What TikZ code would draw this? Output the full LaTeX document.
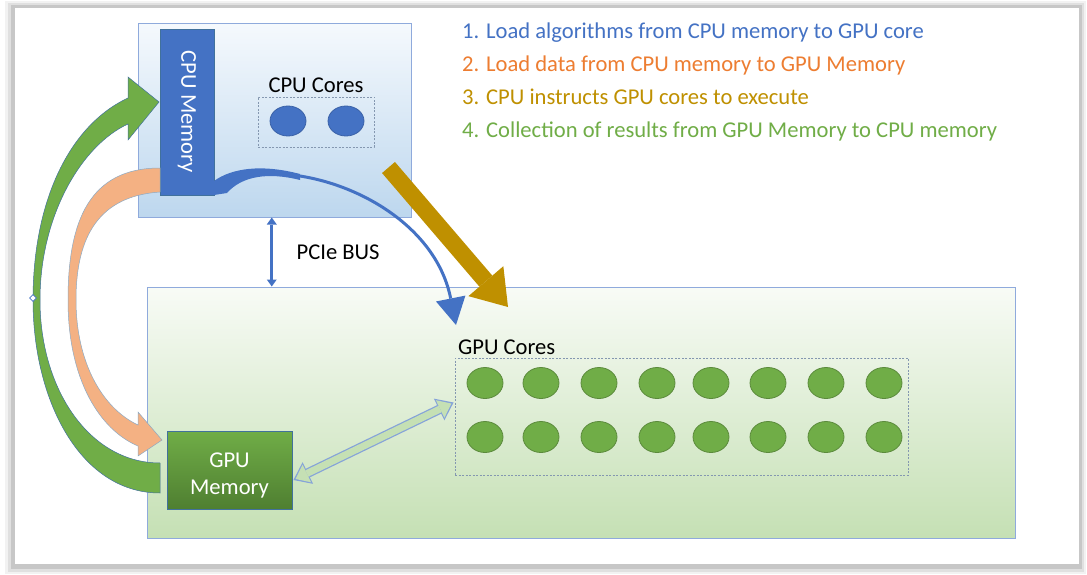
\documentclass[tikz,border=0pt]{standalone}
\usepackage{fontspec}
\setmainfont{Carlito}
\usepackage{xcolor}
\usepackage{graphicx}
\usepackage{tikz}
\usetikzlibrary{shapes.geometric, arrows.meta, calc, positioning, fit}

\definecolor{cblue}{HTML}{4472C4}
\definecolor{corange}{HTML}{ED7D31}
\definecolor{cgold}{HTML}{BF9000}
\definecolor{cgreen}{HTML}{70AD47}
\definecolor{cdkgreen}{HTML}{4F7F31}
\definecolor{lgreen}{HTML}{C5E0B4}
\definecolor{lorange}{HTML}{F4B183}
\definecolor{lblue}{HTML}{BDD7EE}
\definecolor{cputop}{HTML}{F5F9FD}
\definecolor{gputop}{HTML}{F8FBF6}
\definecolor{edge}{HTML}{8FAADC}
\definecolor{dashgray}{HTML}{8497B0}
\definecolor{outline}{HTML}{41719C}
\definecolor{coreedge}{HTML}{5B8A3C}

\begin{document}
\begin{tikzpicture}[x=1pt, y=-1pt, font=\fontsize{22.6}{27}\selectfont,
		arrow/.style = {line width=3pt, color=cblue}]
		\tikzset{box/.style={draw=edge, line width=1pt, inner sep=0pt}}
		\tikzset{dashbox/.style={draw=dashgray, line width=.9pt, dash pattern=on 2pt off 1.5pt, inner sep=0pt}}
		\tikzset{core/.style={ellipse, draw=coreedge, line width=.8pt, fill=cgreen, inner sep=0pt, minimum width=36pt, minimum height=31pt}}
		\tikzset{legend/.style={inner sep=0pt, text height=16pt, text depth=5pt}}

		% frame with shadow
		\useasboundingbox (0,0) rectangle (1087,575);
		\fill[white] (0,0) rectangle (1087,575);
		\fill[black!5] (5,1) rectangle (1086,574);
		\fill[black!12] (8,3) rectangle (1084,572);
		\fill[black!22] (11,5) rectangle (1082,569);
		\fill[white] (15,8) rectangle (1079,564);

		% CPU side
		\node[box, fit={(138,24) (411,217)}, top color=cputop, bottom color=lblue] (cpu) {};
		\node[fit={(160,29) (214,195)}, inner sep=0pt, fill=cblue, draw=outline, line width=.8pt, text=white] (cpumem) {\rotatebox{-90}{CPU Memory}};
		\node[dashbox, fit={(258,97) (374,147)}] (cpucores) {};
		\node[above=0pt of cpucores] (cpucoreslabel) {CPU Cores};
		\node[core, fill=cblue, draw=cblue!85!black, minimum height=30pt] (cc1) at (288,121) {};
		\node[core, fill=cblue, draw=cblue!85!black, minimum height=30pt] (cc2) at (346,121) {};

		% GPU side
		\node[box, fit={(147,287) (1015,538)}, top color=gputop, bottom color=lgreen] (gpu) {};
		\node[fit={(167,431) (292,509)}, inner sep=0pt, top color=cgreen, bottom color=cdkgreen, draw=outline, line width=.8pt,
			label={[text=white, align=center, yshift=-5pt]center:GPU\\Memory}] (gpumem) {};
		\node[dashbox, fit={(455,358) (908,475)}] (gcores) {};
		\node[above right=-1pt and 0pt of gcores.north west] (gcoreslabel) {GPU Cores};
		\foreach \x [count=\i] in {485,541,599,657,711,768,826,884} {
			\node[core] (gcA\i) at (\x,383) {};
			\node[core] (gcB\i) at (\x,437) {};
		}

		% legend
		\node[legend, anchor=west, text=cblue] (step1) at (462,33) {1. Load algorithms from CPU memory to GPU core};
		\node[legend, text=corange, below right=11.5pt and 0pt of step1.south west] (step2) {2. Load data from CPU memory to GPU Memory};
		\node[legend, text=cgold, below right=11.5pt and 0pt of step2.south west] (step3) {3. CPU instructs GPU cores to execute};
		\node[legend, text=cgreen, below right=11.5pt and 0pt of step3.south west] (step4) {4. Collection of results from GPU Memory to CPU memory};

		% PCIe bus
		\coordinate (bustop) at ($(cpu.south west)!0.49!(cpu.south east)$);
		\draw[arrow, {Triangle[length=7pt,width=10pt,line width=0pt]}-{Triangle[length=7pt,width=10pt,line width=0pt]}] (bustop) -- (bustop |- gpu.north) node[midway, right=20pt, black] (buslabel) {PCIe BUS};

		% 1. algorithms to GPU cores
		\coordinate (algstart) at (218,188);
		\coordinate (algtip) at (456,325);
		\fill[cblue] (214,181) .. controls (232,168) and (262,164) .. (300,174) -- (300,180) .. controls (268,172) and (242,176) .. (227,193) -- (214,195) -- cycle;
		\draw[arrow, -{Triangle[length=27pt,width=30pt,line width=0pt]}] (algstart) .. controls (275,148) and (430,195) .. (algtip);

		% 2. data to GPU memory
		\filldraw[fill=lorange, draw=outline!60, line width=.5pt] (160,168) .. controls (90,168) and (68,220) .. (68,300) .. controls (68,380) and (100,430) .. (138,446) -- (138,456) -- (162,440) -- (138,412) -- (138,425) .. controls (102,408) and (76,362) .. (76,300) .. controls (76,235) and (100,196) .. (160,192) -- cycle;

		% 3. instruct GPU cores
		\coordinate (instr) at ($(cpu.south east)+(-23,-50)$);
		\coordinate (instrtip) at (508,307);
		\draw[line width=17pt, cgold, -{Triangle[length=34pt,width=46pt,line width=0pt]}] (instr) -- (instrtip);

		% 4. results back to CPU memory
		\filldraw[fill=cgreen, draw=outline, line width=.5pt] (160,493) .. controls (80,493) and (33,400) .. (33,300) .. controls (33,200) and (70,125) .. (128,98) -- (128,77) -- (159,102) -- (128,140) -- (128,124) .. controls (82,145) and (40,215) .. (40,300) .. controls (40,390) and (90,463) .. (160,463) -- cycle;
		\node[diamond, draw=cblue, fill=white, inner sep=0pt, minimum size=7pt, line width=.6pt] (handle) at (33,298) {};

		% GPU memory <-> GPU cores
		\coordinate (xferA) at ($(gpumem.east)+(1,10)$);
		\coordinate (xferB) at ($(gcores.west)+(-1,-14)$);
		\draw[line width=9.5pt, color=cblue!65, {Triangle[length=16pt,width=24pt,line width=0pt]}-{Triangle[length=16pt,width=24pt,line width=0pt]}] (xferA) -- (xferB);
		\draw[line width=7pt, color=lgreen, shorten <=2.4pt, shorten >=2.4pt, {Triangle[length=12.5pt,width=19.5pt,line width=0pt]}-{Triangle[length=12.5pt,width=19.5pt,line width=0pt]}] (xferA) -- (xferB);
	\end{tikzpicture}
\end{document}
